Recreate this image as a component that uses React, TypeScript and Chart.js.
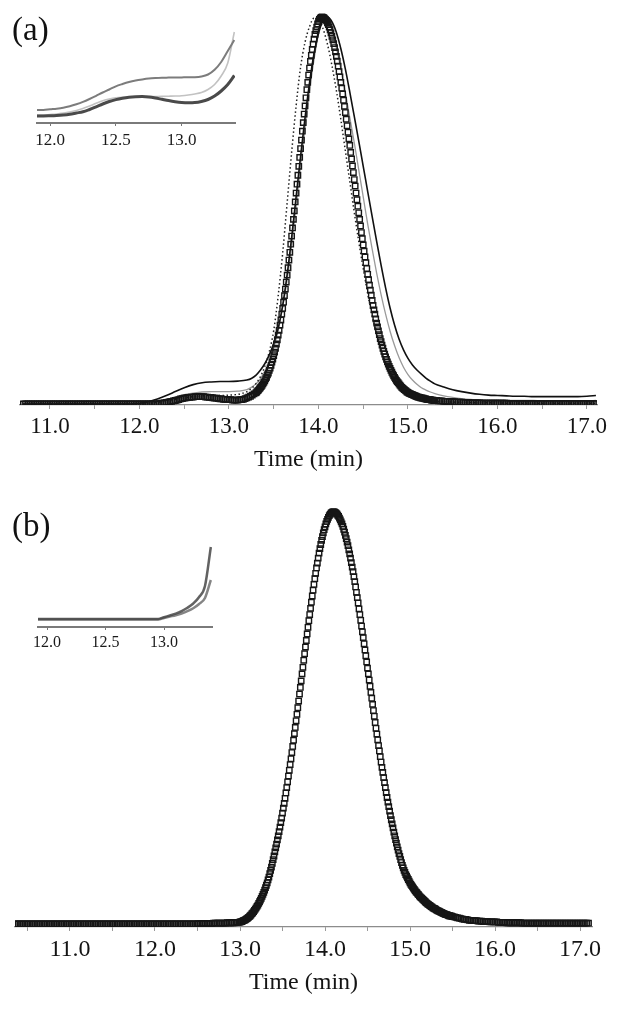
import React, { useEffect, useRef } from "react";
import { Chart, registerables } from "chart.js";

Chart.register(...registerables);

const SERIF = "'Liberation Serif', 'Times New Roman', serif";

// ================= Panel (a) =================
const xRangeA = [10.665, 17.112];
const tickValuesA = [11, 11.5, 12, 12.5, 13, 13.5, 14, 14.5, 15, 15.5, 16, 16.5, 17];

// square-marker trace (a): sampled segments, each with [start time, step]
const sqA_flatStart = [10.7, 0.02];
const sqA_flat = [
  0, 0, 0, 0, 0, 0, 0, 0, 0, 0,
  0, 0, 0, 0, 0, 0, 0, 0, 0, 0,
  0, 0, 0, 0, 0, 0, 0, 0, 0, 0,
  0, 0, 0, 0, 0, 0, 0, 0, 0, 0,
  0, 0, 0, 0, 0, 0, 0, 0, 0, 0,
  0, 0, 0, 0, 0, 0, 0, 0, 0, 0,
  0, 0, 0, 0, 0, 0, 0, 0, 0, 0,
  0, 0, 0, 0, 0, 0,
];
const sqA_bumpStart = [12.22, 0.02];
const sqA_bump = [
  0.001, 0.002, 0.002, 0.003, 0.004, 0.005, 0.006, 0.007, 0.008, 0.009,
  0.010, 0.011, 0.013, 0.014, 0.015, 0.016, 0.017, 0.017, 0.018, 0.018,
  0.019, 0.019, 0.019, 0.019, 0.019, 0.019, 0.018, 0.018, 0.017, 0.017,
  0.016, 0.015, 0.015, 0.014, 0.013, 0.013, 0.012, 0.012, 0.011, 0.011,
  0.011, 0.010, 0.010, 0.010, 0.010, 0.011, 0.011, 0.012, 0.014, 0.016,
  0.018, 0.020, 0.023, 0.026,
];
const sqA_peakStart = [13.3, 0.01];
const sqA_peak = [
  0.029, 0.031, 0.034, 0.036, 0.039, 0.042, 0.045, 0.048, 0.052, 0.056,
  0.060, 0.065, 0.069, 0.075, 0.080, 0.087, 0.093, 0.100, 0.108, 0.116,
  0.125, 0.134, 0.144, 0.155, 0.166, 0.178, 0.190, 0.204, 0.217, 0.232,
  0.247, 0.263, 0.280, 0.297, 0.315, 0.333, 0.352, 0.372, 0.392, 0.413,
  0.434, 0.455, 0.477, 0.499, 0.522, 0.545, 0.568, 0.591, 0.614, 0.637,
  0.660, 0.682, 0.705, 0.727, 0.749, 0.770, 0.791, 0.812, 0.831, 0.850,
  0.868, 0.885, 0.901, 0.916, 0.930, 0.943, 0.955, 0.965, 0.974, 0.982,
  0.989, 0.994, 0.997, 0.999, 1.000, 0.999, 0.998, 0.996, 0.993, 0.990,
  0.985, 0.980, 0.974, 0.967, 0.959, 0.950, 0.941, 0.931, 0.921, 0.910,
  0.898, 0.886, 0.873, 0.859, 0.845, 0.831, 0.816, 0.801, 0.785, 0.769,
  0.753, 0.736, 0.719, 0.702, 0.685, 0.668, 0.650, 0.633, 0.615, 0.598,
  0.580, 0.563, 0.545, 0.528, 0.511, 0.494, 0.477, 0.460, 0.443, 0.427,
  0.411, 0.395, 0.380, 0.365, 0.350, 0.335, 0.321, 0.307, 0.294, 0.281,
  0.268, 0.255, 0.243, 0.232, 0.220, 0.209, 0.199, 0.189, 0.179, 0.169,
  0.161, 0.152, 0.144, 0.136, 0.129, 0.122, 0.115, 0.109, 0.103, 0.097,
  0.092, 0.087, 0.082, 0.077, 0.073, 0.069, 0.065, 0.061, 0.058, 0.055,
  0.052, 0.049, 0.046, 0.043, 0.041, 0.039, 0.037, 0.035, 0.033, 0.031,
  0.030, 0.028, 0.027, 0.026, 0.025, 0.024, 0.023, 0.022, 0.021, 0.020,
  0.019, 0.018, 0.018, 0.017, 0.016, 0.016, 0.015, 0.015, 0.014, 0.013,
  0.013, 0.012, 0.012, 0.012, 0.011, 0.011, 0.010, 0.010, 0.010, 0.009,
  0.009,
];
const sqA_tailStart = [15.32, 0.02];
const sqA_tail = [
  0.009, 0.008, 0.008, 0.008, 0.007, 0.007, 0.007, 0.006, 0.006, 0.006,
  0.006, 0.005, 0.005, 0.005, 0.005, 0.004, 0.004, 0.004, 0.004, 0.003,
  0.003, 0.003, 0.003, 0.003, 0.003, 0.002, 0.002, 0.002, 0.002, 0.002,
  0.002, 0.002, 0.002, 0.002, 0.002, 0.002, 0.002, 0.002, 0.002, 0.002,
  0.001, 0.001, 0.001, 0.001, 0.001, 0.001, 0.001, 0.001, 0.001, 0.001,
  0.001, 0.001, 0.001, 0.001, 0.001, 0.001, 0.001, 0.001, 0.001, 0.001,
  0.001, 0.001, 0.001, 0.001, 0.001, 0.001, 0.001, 0.001, 0.001, 0.001,
  0.001, 0.001, 0.001, 0.001, 0.001, 0.001, 0.001, 0.001, 0.001, 0.001,
  0.001, 0.001, 0.001, 0.001, 0.001, 0.001, 0.001, 0.001, 0.001, 0.001,
];

// line traces (a): shared sampling segments
const lnA_leadStart = [10.7, 0.1];
const lnA_peakStart = [13.25, 0.05];
const lnA_tailStart = [15.4, 0.1];

const solidA_lead = [
  0, 0, 0, 0, 0, 0, 0, 0, 0, 0, 0, 0, 0,
  0.002, 0.006, 0.013, 0.022, 0.032, 0.042, 0.050, 0.055, 0.057, 0.058, 0.058, 0.059, 0.062,
];
const solidA_peak = [
  0.066, 0.074, 0.087, 0.104, 0.127, 0.157, 0.196, 0.255, 0.335, 0.430, 0.535, 0.640, 0.740, 0.830,
  0.905, 0.958, 0.990, 1.000, 0.988, 0.960, 0.918, 0.866, 0.806, 0.743, 0.679, 0.614, 0.549, 0.484,
  0.420, 0.358, 0.300, 0.248, 0.204, 0.168, 0.140, 0.118, 0.101, 0.088, 0.077, 0.067, 0.059, 0.052,
];
const solidA_tail = [
  0.044, 0.037, 0.032, 0.028, 0.025, 0.023, 0.022, 0.021, 0.020, 0.020, 0.019, 0.019, 0.019, 0.019,
  0.019, 0.019, 0.020, 0.022,
];

const grayA_lead = [
  0, 0, 0, 0, 0, 0, 0, 0, 0, 0, 0, 0, 0,
  0.001, 0.003, 0.007, 0.012, 0.018, 0.024, 0.028, 0.031, 0.032, 0.032, 0.032, 0.033, 0.037,
];
const grayA_peak = [
  0.043, 0.052, 0.065, 0.085, 0.110, 0.145, 0.190, 0.250, 0.320, 0.410, 0.510, 0.615, 0.715, 0.810,
  0.890, 0.955, 0.992, 0.995, 0.965, 0.920, 0.865, 0.805, 0.740, 0.675, 0.605, 0.535, 0.465, 0.400,
  0.338, 0.282, 0.232, 0.188, 0.151, 0.120, 0.095, 0.076, 0.062, 0.051, 0.042, 0.036, 0.031, 0.027,
];
const grayA_tail = [
  0.021, 0.017, 0.014, 0.012, 0.011, 0.010, 0.010, 0.009, 0.009, 0.009, 0.009, 0.008, 0.008, 0.008,
  0.008, 0.008, 0.008, 0.009,
];

const dotA_lead = [
  0, 0, 0, 0, 0, 0, 0, 0, 0, 0, 0, 0, 0,
  0.000, 0.001, 0.004, 0.008, 0.012, 0.016, 0.019, 0.021, 0.022, 0.022, 0.023, 0.025, 0.032,
];
const dotA_peak = [
  0.040, 0.052, 0.070, 0.097, 0.135, 0.190, 0.280, 0.390, 0.520, 0.650, 0.770, 0.870, 0.935, 0.975,
  0.997, 0.995, 0.970, 0.930, 0.875, 0.810, 0.735, 0.655, 0.575, 0.495, 0.420, 0.350, 0.285, 0.228,
  0.178, 0.138, 0.104, 0.078, 0.058, 0.043, 0.032, 0.024, 0.018, 0.014, 0.011, 0.009, 0.008, 0.007,
];
const dotA_tail = [
  0.006, 0.005, 0.004, 0.004, 0.003, 0.003, 0.003, 0.002, 0.002, 0.002, 0.002, 0.002, 0.002, 0.002,
  0.002, 0.002, 0.002, 0.002,
];

// ================= Panel (b) =================
const xRangeB = [10.353, 17.141];
const tickValuesB = [10.5, 11, 11.5, 12, 12.5, 13, 13.5, 14, 14.5, 15, 15.5, 16, 16.5, 17];

const sqB_flatStart = [10.35, 0.02];
const sqB_flat = [
  0, 0, 0, 0, 0, 0, 0, 0, 0, 0,
  0, 0, 0, 0, 0, 0, 0, 0, 0, 0,
  0, 0, 0, 0, 0, 0, 0, 0, 0, 0,
  0, 0, 0, 0, 0, 0, 0, 0, 0, 0,
  0, 0, 0, 0, 0, 0, 0, 0, 0, 0,
  0, 0, 0, 0, 0, 0, 0, 0, 0, 0,
  0, 0, 0, 0, 0, 0, 0, 0, 0, 0,
  0, 0, 0, 0, 0, 0, 0, 0, 0, 0,
  0, 0, 0, 0, 0, 0, 0, 0, 0, 0,
  0, 0, 0, 0, 0, 0, 0, 0, 0, 0,
  0, 0, 0, 0, 0, 0, 0, 0,
];
const sqB_riseStart = [12.51, 0.02];
const sqB_rise = [
  0.001, 0.001, 0.001, 0.001, 0.001, 0.001, 0.001, 0.001, 0.001,
  0.002, 0.002, 0.002, 0.002, 0.002, 0.002, 0.002, 0.002,
  0.003, 0.003, 0.003, 0.003, 0.003, 0.004, 0.004, 0.004,
];
const sqB_peakStart = [13.0, 0.01];
const sqB_peak = [
  0.005, 0.005, 0.006, 0.007, 0.008, 0.009, 0.010, 0.011, 0.013, 0.014,
  0.016, 0.018, 0.020, 0.022, 0.025, 0.027, 0.030, 0.033, 0.036, 0.039,
  0.043, 0.046, 0.050, 0.054, 0.058, 0.062, 0.067, 0.072, 0.077, 0.082,
  0.088, 0.094, 0.100, 0.107, 0.114, 0.122, 0.130, 0.138, 0.147, 0.156,
  0.165, 0.175, 0.185, 0.194, 0.204, 0.214, 0.224, 0.235, 0.246, 0.257,
  0.269, 0.281, 0.293, 0.305, 0.318, 0.331, 0.345, 0.359, 0.373, 0.387,
  0.401, 0.416, 0.431, 0.446, 0.462, 0.477, 0.493, 0.509, 0.525, 0.541,
  0.558, 0.574, 0.590, 0.607, 0.623, 0.640, 0.656, 0.672, 0.688, 0.704,
  0.720, 0.736, 0.751, 0.766, 0.781, 0.796, 0.810, 0.824, 0.838, 0.851,
  0.864, 0.876, 0.888, 0.900, 0.911, 0.921, 0.931, 0.940, 0.949, 0.957,
  0.964, 0.971, 0.977, 0.982, 0.987, 0.991, 0.994, 0.997, 0.999, 1.000,
  1.000, 1.000, 0.999, 0.997, 0.995, 0.992, 0.989, 0.985, 0.981, 0.976,
  0.971, 0.965, 0.958, 0.951, 0.943, 0.935, 0.927, 0.918, 0.908, 0.898,
  0.888, 0.877, 0.866, 0.855, 0.843, 0.831, 0.818, 0.805, 0.792, 0.779,
  0.765, 0.751, 0.737, 0.723, 0.709, 0.695, 0.680, 0.665, 0.651, 0.636,
  0.621, 0.607, 0.592, 0.577, 0.562, 0.548, 0.533, 0.518, 0.504, 0.489,
  0.475, 0.461, 0.447, 0.433, 0.420, 0.406, 0.393, 0.380, 0.368, 0.355,
  0.343, 0.331, 0.319, 0.307, 0.296, 0.285, 0.274, 0.263, 0.253, 0.243,
  0.233, 0.223, 0.214, 0.205, 0.196, 0.187, 0.179, 0.171, 0.164, 0.156,
  0.149, 0.142, 0.136, 0.130, 0.125, 0.120, 0.116, 0.112, 0.108, 0.104,
  0.100, 0.096, 0.093, 0.090, 0.087, 0.084, 0.081, 0.078, 0.076, 0.073,
  0.071, 0.068, 0.066, 0.064, 0.062, 0.060, 0.058, 0.056, 0.054, 0.052,
  0.050, 0.048, 0.047, 0.045, 0.044, 0.042, 0.041, 0.039, 0.038, 0.037,
  0.036, 0.034, 0.033, 0.032, 0.031, 0.030, 0.029, 0.028, 0.027, 0.026,
  0.025, 0.024, 0.023, 0.023, 0.022, 0.021, 0.020, 0.020, 0.019, 0.019,
  0.018,
];
const sqB_tailStart = [15.52, 0.02];
const sqB_tail = [
  0.017, 0.016, 0.015, 0.014, 0.013, 0.012, 0.011, 0.011, 0.010, 0.009,
  0.009, 0.008, 0.008, 0.008, 0.007, 0.007, 0.007, 0.006, 0.006, 0.006,
  0.006, 0.005, 0.005, 0.005, 0.005, 0.005, 0.004, 0.004, 0.004, 0.004,
  0.004, 0.003, 0.003, 0.003, 0.003, 0.003, 0.003, 0.003, 0.003, 0.003,
  0.002, 0.002, 0.002, 0.002, 0.002, 0.002, 0.002, 0.002, 0.002, 0.002,
  0.002, 0.002, 0.002, 0.002, 0.002, 0.002, 0.002, 0.002, 0.002, 0.002,
  0.002, 0.002, 0.002, 0.002, 0.002, 0.002, 0.002, 0.002, 0.002, 0.002,
  0.002, 0.002, 0.002, 0.002, 0.002, 0.002, 0.002, 0.002, 0.002, 0.002,
];

// ================= Insets =================
const insetRangeA = [11.901, 13.405];
const insetRangeB = [11.923, 13.41];
const insetTicks = [12, 12.5, 13];
const insetStart = [11.9, 0.05];

const insetA_upper = [
  13, 13, 13.7, 14.3, 15.2, 16.7, 18.7, 21.1, 24.0, 27.2, 30.5, 33.5, 36.7, 39.0, 41.0, 42.5, 43.6,
  44.5, 45.0, 45.3, 45.4, 45.5, 45.6, 45.7, 45.8, 46.5, 48.5, 53.2, 61.0, 72.0, 83.0,
];
const insetA_light = [
  8, 8, 8.5, 9, 10, 11, 12.5, 14.5, 17, 19.7, 22.2, 24, 25.2, 25.8, 26.1, 26.3, 26.4, 26.4, 26.5,
  26.6, 26.8, 27, 27.3, 28, 29, 30.5, 33.5, 38.5, 47, 60, 91,
];
const insetA_dark = [
  7, 7, 7.2, 7.5, 8, 8.8, 10, 11.2, 13.5, 16.2, 19, 21.5, 23.4, 24.8, 25.8, 26.3, 26.4, 26, 25,
  23.7, 22.4, 21.3, 20.5, 20.2, 20.4, 21.5, 23.5, 27, 32, 38.5, 47.5,
];
const insetB_first = [
  8, 8, 8, 8, 8, 8, 8, 8, 8, 8, 8, 8, 8, 8, 8, 8, 8, 8, 8, 8, 8, 8,
  9.8, 11.5, 13.3, 15.8, 19.2, 23.5, 30.0, 41.0, 80,
];
const insetB_second = [
  7.5, 7.5, 7.5, 7.5, 7.5, 7.5, 7.5, 7.5, 7.5, 7.5, 7.5, 7.5, 7.5, 7.5, 7.5, 7.5, 7.5, 7.5, 7.5,
  7.5, 7.5, 7.5,
  9.0, 10.4, 11.8, 13.5, 15.8, 18.8, 23.0, 29.0, 47.0,
];

// ---------- helpers ----------
type Pt = { x: number; y: number };
function seg(start: number[], vals: number[]): Pt[] {
  const [t0, step] = start;
  return vals.map((y, i) => ({ x: Math.round((t0 + i * step) * 1000) / 1000, y }));
}

function lineDs(data: Pt[], color: string, width: number, order: number, dash: number[] = []) {
  return {
    data,
    borderColor: color,
    borderWidth: width,
    borderDash: dash,
    pointRadius: 0,
    fill: false,
    cubicInterpolationMode: "monotone" as const,
    order,
  };
}

function squaresDs(data: Pt[], order: number) {
  return {
    data,
    showLine: false,
    pointStyle: "rect" as const,
    pointRadius: 3.8,
    pointBorderWidth: 1.4,
    pointBorderColor: "#161616",
    pointBackgroundColor: "rgba(255,255,255,0)",
    order,
  };
}

function mainConfig(opts: {
  datasets: any[];
  xRange: number[];
  ticks: number[];
  yRange: number[];
  padding: any;
  axisHeight: number;
  tickFont: number;
  tickPad: number;
  titleBottom: number;
}) {
  return {
    type: "line" as const,
    data: { datasets: opts.datasets },
    options: {
      animation: false as const,
      responsive: false,
      events: [] as any[],
      layout: { padding: opts.padding },
      plugins: { legend: { display: false }, tooltip: { enabled: false } },
      scales: {
        x: {
          type: "linear" as const,
          min: opts.xRange[0],
          max: opts.xRange[1],
          afterBuildTicks: (axis: any) => {
            axis.ticks = opts.ticks.map((v) => ({ value: v }));
          },
          afterFit: (scale: any) => {
            scale.height = opts.axisHeight;
          },
          ticks: {
            autoSkip: false,
            maxRotation: 0,
            padding: opts.tickPad,
            color: "#141414",
            font: { family: SERIF, size: opts.tickFont },
            callback: (v: any) => {
              const n = Number(v);
              return Math.abs(n - Math.round(n)) < 1e-6 ? n.toFixed(1) : "";
            },
          },
          grid: {
            drawOnChartArea: false,
            drawTicks: true,
            tickLength: 4,
            color: "#9a9a9a",
          },
          border: { display: true, color: "#8c8c8c", width: 1.2 },
          title: {
            display: true,
            text: "Time (min)",
            color: "#141414",
            font: { family: SERIF, size: 24 },
            padding: { top: 0, bottom: opts.titleBottom },
          },
        },
        y: { type: "linear" as const, display: false, min: opts.yRange[0], max: opts.yRange[1] },
      },
    },
  };
}

function insetConfig(opts: {
  datasets: any[];
  xRange: number[];
  yMax: number;
  padding: any;
  axisHeight: number;
  tickFont: number;
  tickPad: number;
}) {
  return {
    type: "line" as const,
    data: { datasets: opts.datasets },
    options: {
      animation: false as const,
      responsive: false,
      events: [] as any[],
      layout: { padding: opts.padding },
      plugins: { legend: { display: false }, tooltip: { enabled: false } },
      scales: {
        x: {
          type: "linear" as const,
          min: opts.xRange[0],
          max: opts.xRange[1],
          afterBuildTicks: (axis: any) => {
            axis.ticks = insetTicks.map((v) => ({ value: v }));
          },
          afterFit: (scale: any) => {
            scale.height = opts.axisHeight;
          },
          ticks: {
            autoSkip: false,
            maxRotation: 0,
            padding: opts.tickPad,
            color: "#1a1a1a",
            font: { family: SERIF, size: opts.tickFont },
            callback: (v: any) => Number(v).toFixed(1),
          },
          grid: { drawOnChartArea: false, drawTicks: true, tickLength: 3, color: "#777" },
          border: { display: true, color: "#7a7a7a", width: 2 },
        },
        y: { type: "linear" as const, display: false, min: 0, max: opts.yMax },
      },
    },
  };
}

function ChartCanvas(props: { left: number; top: number; width: number; height: number; make: () => any }) {
  const ref = useRef<HTMLCanvasElement | null>(null);
  useEffect(() => {
    const chart = new Chart(ref.current as HTMLCanvasElement, props.make());
    return () => chart.destroy();
  }, []);
  return (
    <canvas
      ref={ref}
      width={props.width}
      height={props.height}
      style={{ position: "absolute", left: props.left, top: props.top, width: props.width, height: props.height }}
    />
  );
}

const makeA = () =>
  mainConfig({
    datasets: [
      squaresDs(
        [
          ...seg(sqA_flatStart, sqA_flat),
          ...seg(sqA_bumpStart, sqA_bump),
          ...seg(sqA_peakStart, sqA_peak),
          ...seg(sqA_tailStart, sqA_tail),
        ],
        0
      ),
      lineDs([...seg(lnA_leadStart, solidA_lead), ...seg(lnA_peakStart, solidA_peak), ...seg(lnA_tailStart, solidA_tail)], "#111", 1.6, 1),
      lineDs([...seg(lnA_leadStart, dotA_lead), ...seg(lnA_peakStart, dotA_peak), ...seg(lnA_tailStart, dotA_tail)], "#222", 1.5, 2, [1.5, 2.5]),
      lineDs([...seg(lnA_leadStart, grayA_lead), ...seg(lnA_peakStart, grayA_peak), ...seg(lnA_tailStart, grayA_tail)], "#9a9a9a", 1.3, 3),
    ],
    xRange: xRangeA,
    ticks: tickValuesA,
    yRange: [-0.0026, 1.018],
    padding: { left: 20, right: 25, top: 10, bottom: 0 },
    axisHeight: 75,
    tickFont: 23,
    tickPad: 3.7,
    titleBottom: 5.6,
  });

const makeB = () =>
  mainConfig({
    datasets: [
      squaresDs(
        [
          ...seg(sqB_flatStart, sqB_flat),
          ...seg(sqB_riseStart, sqB_rise),
          ...seg(sqB_peakStart, sqB_peak),
          ...seg(sqB_tailStart, sqB_tail),
        ],
        0
      ),
    ],
    xRange: xRangeB,
    ticks: tickValuesB,
    yRange: [-0.0073, 1.029],
    padding: { left: 15, right: 30, top: 10, bottom: 0 },
    axisHeight: 86,
    tickFont: 24,
    tickPad: 4.6,
    titleBottom: 15.6,
  });

const makeInsetA = () =>
  insetConfig({
    datasets: [
      lineDs(seg(insetStart, insetA_light), "#c2c2c2", 1.6, 2),
      lineDs(seg(insetStart, insetA_upper), "#7c7c7c", 2, 1),
      lineDs(seg(insetStart, insetA_dark), "#4a4a4a", 3, 0),
    ],
    xRange: insetRangeA,
    yMax: 100,
    padding: { left: 10, right: 10, top: 8, bottom: 0 },
    axisHeight: 27,
    tickFont: 17,
    tickPad: 4.4,
  });

const makeInsetB = () =>
  insetConfig({
    datasets: [
      lineDs(seg(insetStart, insetB_first), "rgba(70,70,70,0.85)", 2.5, 0),
      lineDs(seg(insetStart, insetB_second), "rgba(110,110,110,0.85)", 2.5, 1),
    ],
    xRange: insetRangeB,
    yMax: 92,
    padding: { left: 10, right: 16, top: 10, bottom: 0 },
    axisHeight: 33,
    tickFont: 16,
    tickPad: 3.4,
  });

const labelStyle = (top: number): React.CSSProperties => ({
  position: "absolute",
  left: 12,
  top,
  fontFamily: SERIF,
  fontSize: 33,
  lineHeight: "33px",
  color: "#111",
});

export default function App() {
  return (
    <div style={{ position: "absolute", left: 0, top: 0, width: 622, height: 1013, background: "#fff", overflow: "hidden" }}>
      <ChartCanvas left={0} top={0} width={622} height={480} make={makeA} />
      <ChartCanvas left={0} top={490} width={622} height={523} make={makeB} />
      <ChartCanvas left={27} top={15} width={218} height={135} make={makeInsetA} />
      <ChartCanvas left={28} top={525} width={200} height={135} make={makeInsetB} />
      <div style={labelStyle(13)}>(a)</div>
      <div style={labelStyle(509)}>(b)</div>
    </div>
  );
}
